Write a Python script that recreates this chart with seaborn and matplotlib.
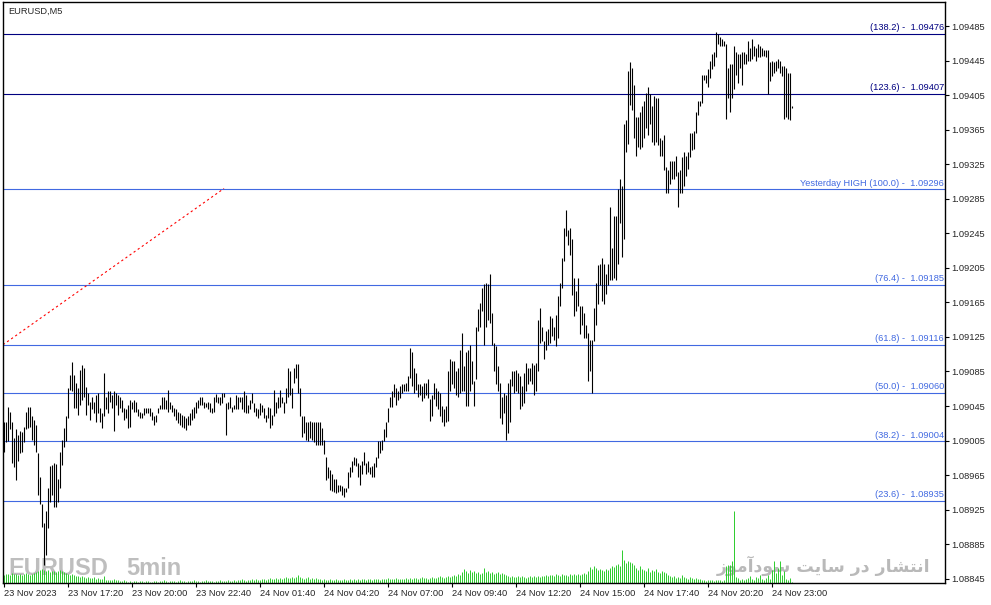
import numpy as np
import matplotlib
matplotlib.use("Agg")
import matplotlib.pyplot as plt
from matplotlib.ticker import FormatStrFormatter
import seaborn as sns

# EURUSD M5 bars, 23 Nov 2023 14:40 .. 24 Nov 2023 23:30
HIGH = [
    1.09026, 1.09026, 1.09044, 1.09038, 1.09027, 1.09008, 1.09018, 1.09012, 1.09016, 1.09015,
    1.09021, 1.09038, 1.09044, 1.09044, 1.09033, 1.09029, 1.09023, 1.08991, 1.08963, 1.08931,
    1.08910, 1.08923, 1.08950, 1.08975, 1.08977, 1.08979, 1.08978, 1.08960, 1.08992, 1.09006,
    1.09019, 1.09034, 1.09066, 1.09081, 1.09096, 1.09081, 1.09072, 1.09066, 1.09087, 1.09092,
    1.09089, 1.09067, 1.09060, 1.09050, 1.09056, 1.09050, 1.09058, 1.09060, 1.09043, 1.09037,
    1.09083, 1.09056, 1.09062, 1.09062, 1.09058, 1.09062, 1.09060, 1.09058, 1.09056, 1.09052,
    1.09043, 1.09041, 1.09046, 1.09052, 1.09050, 1.09052, 1.09050, 1.09041, 1.09038, 1.09037,
    1.09043, 1.09043, 1.09043, 1.09043, 1.09038, 1.09033, 1.09035, 1.09043, 1.09046, 1.09055,
    1.09055, 1.09052, 1.09064, 1.09050, 1.09046, 1.09043, 1.09041, 1.09038, 1.09037, 1.09035,
    1.09033, 1.09031, 1.09033, 1.09037, 1.09041, 1.09044, 1.09050, 1.09052, 1.09056, 1.09056,
    1.09050, 1.09049, 1.09050, 1.09049, 1.09043, 1.09055, 1.09059, 1.09056, 1.09055, 1.09060,
    1.09060, 1.09049, 1.09050, 1.09055, 1.09044, 1.09046, 1.09058, 1.09055, 1.09056, 1.09056,
    1.09062, 1.09058, 1.09046, 1.09052, 1.09060, 1.09049, 1.09043, 1.09041, 1.09049, 1.09046,
    1.09043, 1.09035, 1.09044, 1.09043, 1.09035, 1.09064, 1.09050, 1.09055, 1.09063, 1.09056,
    1.09050, 1.09066, 1.09089, 1.09085, 1.09066, 1.09089, 1.09094, 1.09094, 1.09066, 1.09033,
    1.09033, 1.09027, 1.09027, 1.09028, 1.09027, 1.09027, 1.09026, 1.09026, 1.09026, 1.09020,
    1.09006, 1.08986, 1.08974, 1.08971, 1.08966, 1.08960, 1.08960, 1.08954, 1.08954, 1.08952,
    1.08950, 1.08950, 1.08968, 1.08974, 1.08981, 1.08986, 1.08985, 1.08979, 1.08977, 1.08981,
    1.08992, 1.08979, 1.08981, 1.08974, 1.08975, 1.08979, 1.08986, 1.09004, 1.09004, 1.09006,
    1.09018, 1.09027, 1.09043, 1.09056, 1.09062, 1.09070, 1.09066, 1.09062, 1.09068, 1.09070,
    1.09070, 1.09072, 1.09080, 1.09112, 1.09108, 1.09089, 1.09083, 1.09070, 1.09070, 1.09068,
    1.09072, 1.09072, 1.09076, 1.09053, 1.09058, 1.09072, 1.09066, 1.09062, 1.09060, 1.09045,
    1.09041, 1.09045, 1.09085, 1.09099, 1.09097, 1.09097, 1.09085, 1.09089, 1.09110, 1.09130,
    1.09091, 1.09108, 1.09110, 1.09116, 1.09097, 1.09074, 1.09136, 1.09157, 1.09164, 1.09182,
    1.09186, 1.09188, 1.09186, 1.09198, 1.09153, 1.09118, 1.09114, 1.09091, 1.09072, 1.09056,
    1.09060, 1.09058, 1.09072, 1.09076, 1.09085, 1.09085, 1.09087, 1.09083, 1.09080, 1.09068,
    1.09083, 1.09095, 1.09089, 1.09089, 1.09095, 1.09093, 1.09095, 1.09145, 1.09159, 1.09136,
    1.09120, 1.09132, 1.09134, 1.09149, 1.09147, 1.09137, 1.09151, 1.09172, 1.09188, 1.09217,
    1.09251, 1.09272, 1.09249, 1.09251, 1.09238, 1.09193, 1.09178, 1.09193, 1.09161, 1.09161,
    1.09153, 1.09139, 1.09130, 1.09122, 1.09122, 1.09159, 1.09188, 1.09208, 1.09210, 1.09216,
    1.09210, 1.09198, 1.09210, 1.09275, 1.09228, 1.09265, 1.09265, 1.09296, 1.09308, 1.09300,
    1.09372, 1.09376, 1.09433, 1.09443, 1.09437, 1.09417, 1.09380, 1.09380, 1.09386, 1.09392,
    1.09398, 1.09408, 1.09414, 1.09406, 1.09392, 1.09404, 1.09402, 1.09402, 1.09355, 1.09353,
    1.09359, 1.09322, 1.09318, 1.09329, 1.09329, 1.09329, 1.09335, 1.09316, 1.09318, 1.09333,
    1.09339, 1.09335, 1.09339, 1.09361, 1.09361, 1.09363, 1.09386, 1.09398, 1.09398, 1.09429,
    1.09429, 1.09429, 1.09435, 1.09445, 1.09453, 1.09455, 1.09478, 1.09476, 1.09472, 1.09470,
    1.09468, 1.09464, 1.09437, 1.09441, 1.09441, 1.09462, 1.09455, 1.09453, 1.09453, 1.09455,
    1.09455, 1.09453, 1.09468, 1.09460, 1.09470, 1.09462, 1.09460, 1.09464, 1.09462, 1.09460,
    1.09457, 1.09457, 1.09457, 1.09443, 1.09445, 1.09443, 1.09445, 1.09447, 1.09445, 1.09439,
    1.09439, 1.09437, 1.09431, 1.09431, 1.09392,
]
LOW = [
    1.08992, 1.09003, 1.09004, 1.09018, 1.08979, 1.08974, 1.08959, 1.08981, 1.08991, 1.08992,
    1.09003, 1.09018, 1.09020, 1.09021, 1.09006, 1.09000, 1.08992, 1.08942, 1.08931, 1.08905,
    1.08861, 1.08873, 1.08904, 1.08934, 1.08942, 1.08928, 1.08928, 1.08934, 1.08950, 1.08977,
    1.08998, 1.09004, 1.09031, 1.09064, 1.09062, 1.09043, 1.09043, 1.09035, 1.09046, 1.09052,
    1.09055, 1.09035, 1.09046, 1.09029, 1.09041, 1.09037, 1.09027, 1.09037, 1.09027, 1.09020,
    1.09033, 1.09041, 1.09037, 1.09050, 1.09043, 1.09016, 1.09046, 1.09035, 1.09043, 1.09038,
    1.09029, 1.09031, 1.09020, 1.09021, 1.09041, 1.09038, 1.09038, 1.09033, 1.09031, 1.09031,
    1.09035, 1.09037, 1.09037, 1.09033, 1.09029, 1.09023, 1.09027, 1.09037, 1.09041, 1.09041,
    1.09041, 1.09041, 1.09038, 1.09041, 1.09038, 1.09033, 1.09029, 1.09025, 1.09023, 1.09021,
    1.09020, 1.09017, 1.09023, 1.09023, 1.09029, 1.09031, 1.09037, 1.09043, 1.09046, 1.09046,
    1.09043, 1.09044, 1.09041, 1.09038, 1.09037, 1.09038, 1.09050, 1.09049, 1.09046, 1.09049,
    1.09055, 1.09012, 1.09041, 1.09043, 1.09038, 1.09041, 1.09041, 1.09041, 1.09050, 1.09041,
    1.09038, 1.09037, 1.09037, 1.09041, 1.09049, 1.09038, 1.09033, 1.09031, 1.09035, 1.09038,
    1.09031, 1.09027, 1.09031, 1.09020, 1.09023, 1.09033, 1.09037, 1.09043, 1.09044, 1.09049,
    1.09037, 1.09049, 1.09056, 1.09058, 1.09043, 1.09072, 1.09078, 1.09060, 1.09033, 1.09009,
    1.09014, 1.09006, 1.09005, 1.09008, 1.09006, 1.09003, 1.09000, 1.09000, 1.09000, 1.09000,
    1.08989, 1.08959, 1.08962, 1.08948, 1.08946, 1.08945, 1.08944, 1.08945, 1.08946, 1.08942,
    1.08940, 1.08945, 1.08950, 1.08963, 1.08968, 1.08977, 1.08975, 1.08963, 1.08954, 1.08966,
    1.08977, 1.08966, 1.08968, 1.08966, 1.08963, 1.08963, 1.08974, 1.08985, 1.08991, 1.08994,
    1.09004, 1.09009, 1.09027, 1.09044, 1.09044, 1.09055, 1.09046, 1.09052, 1.09054, 1.09060,
    1.09062, 1.09062, 1.09062, 1.09078, 1.09068, 1.09060, 1.09064, 1.09056, 1.09058, 1.09051,
    1.09054, 1.09058, 1.09054, 1.09028, 1.09033, 1.09053, 1.09045, 1.09041, 1.09033, 1.09026,
    1.09022, 1.09026, 1.09028, 1.09062, 1.09070, 1.09066, 1.09058, 1.09056, 1.09060, 1.09062,
    1.09062, 1.09045, 1.09045, 1.09062, 1.09070, 1.09045, 1.09076, 1.09132, 1.09137, 1.09155,
    1.09116, 1.09137, 1.09145, 1.09141, 1.09116, 1.09085, 1.09070, 1.09062, 1.09031, 1.09024,
    1.09037, 1.09006, 1.09014, 1.09026, 1.09068, 1.09060, 1.09062, 1.09060, 1.09041, 1.09045,
    1.09049, 1.09062, 1.09070, 1.09074, 1.09070, 1.09058, 1.09062, 1.09085, 1.09118, 1.09120,
    1.09099, 1.09110, 1.09116, 1.09118, 1.09126, 1.09122, 1.09114, 1.09124, 1.09161, 1.09182,
    1.09213, 1.09242, 1.09232, 1.09220, 1.09174, 1.09149, 1.09155, 1.09161, 1.09128, 1.09139,
    1.09124, 1.09124, 1.09074, 1.09085, 1.09060, 1.09120, 1.09139, 1.09163, 1.09185, 1.09167,
    1.09163, 1.09175, 1.09185, 1.09191, 1.09191, 1.09193, 1.09191, 1.09210, 1.09257, 1.09218,
    1.09238, 1.09339, 1.09349, 1.09394, 1.09388, 1.09355, 1.09335, 1.09345, 1.09343, 1.09345,
    1.09355, 1.09367, 1.09359, 1.09372, 1.09351, 1.09347, 1.09351, 1.09347, 1.09335, 1.09335,
    1.09318, 1.09292, 1.09292, 1.09302, 1.09308, 1.09308, 1.09312, 1.09275, 1.09292, 1.09292,
    1.09300, 1.09312, 1.09320, 1.09333, 1.09341, 1.09343, 1.09361, 1.09382, 1.09392, 1.09396,
    1.09423, 1.09419, 1.09414, 1.09425, 1.09435, 1.09439, 1.09449, 1.09464, 1.09462, 1.09462,
    1.09462, 1.09378, 1.09402, 1.09386, 1.09402, 1.09412, 1.09429, 1.09419, 1.09437, 1.09417,
    1.09441, 1.09441, 1.09445, 1.09445, 1.09447, 1.09451, 1.09445, 1.09449, 1.09449, 1.09451,
    1.09451, 1.09449, 1.09406, 1.09421, 1.09427, 1.09431, 1.09433, 1.09437, 1.09431, 1.09427,
    1.09378, 1.09380, 1.09378, 1.09376, 1.09390,
]
# tick volume
VOLUME = [
    160, 180, 180, 160, 200, 180, 180, 160, 180, 160, 180, 200, 180, 160, 180, 200, 220,
    240, 260, 280, 260, 240, 260,
    220, 240, 240, 220, 240, 260, 240, 220,
    200, 180, 160, 180, 160, 140, 140, 120, 140, 120, 100, 120, 100, 100, 120, 80, 100, 80, 80,
    140,
    60, 60, 60, 60, 80, 60, 60, 40, 40, 60,
    40, 20, 40, 20, 40, 40, 20, 40, 40, 20, 40, 40, 20, 20, 40, 40, 20, 40, 40, 60,
    40, 20, 40, 40, 40, 20, 40, 60, 40, 40, 20, 40, 40, 40, 60, 40, 40, 20, 40, 40,
    60, 40, 40, 40, 20, 40, 40, 60, 40, 40, 40, 60, 40, 40,
    60, 40, 60, 60, 80, 60, 40, 60, 60, 80, 60, 80, 60, 60, 80, 80, 60, 80, 100, 80,
    80, 100, 80, 100, 80, 100, 120, 100, 100, 120, 100, 120, 160, 120,
    100, 80, 100, 120, 80, 100, 80, 100, 80, 80,
    60, 80, 60, 60, 80, 60, 60, 80, 60, 60, 60, 80, 60, 60, 80, 60, 80, 60, 80, 60, 80, 80, 60,
    80, 80, 60, 80, 80, 80, 60, 80, 80, 80, 100, 80, 80, 80, 100, 80, 80, 80, 80, 100, 80, 100,
    80, 100, 100, 80, 100, 120, 100, 100, 80, 100, 120, 100, 100, 120, 140, 120, 100, 120, 140, 120,
    140, 160, 140, 180, 160,
    220, 280, 240, 200, 260, 220, 240,
    200, 220, 180, 200, 300, 220, 240, 200, 220, 180, 200, 220, 180, 200, 180, 160,
    140, 120, 140, 120, 120, 140, 120, 140, 120, 100, 120, 140, 120, 140, 120, 140, 120, 140, 140, 160,
    140, 160,
    160, 140, 180, 160, 140, 180, 160, 160, 140, 180, 160, 180, 160, 180, 160, 180, 200, 180,
    240, 320, 280, 340, 300, 260, 280,
    260, 240, 280, 260, 300,
    340, 320, 360, 380, 340,
    660,
    460, 400, 440, 420, 400, 360,
    300, 260, 340, 280, 260,
    240, 300, 220, 260, 240, 280, 220, 200, 240, 220, 200,
    160, 140, 120, 140, 100, 120, 100, 160, 120, 100, 80, 120, 100, 80, 100, 80, 80,
    60, 60, 40, 60, 60, 60, 40, 60, 60, 60, 40, 60,
    340, 360, 360, 440,
    1440,
    120, 100, 60, 80, 60, 80, 100, 140, 80, 60, 120, 100, 160, 80, 60, 100, 160, 80,
    260, 440, 200, 300, 440, 160, 240,
    80, 60, 100, 20,
]

FIB_LEVELS = [138.2, 123.6, 100.0, 76.4, 61.8, 50.0, 38.2, 23.6]
FIB_PRICES = [1.09476, 1.09407, 1.09296, 1.09185, 1.09116, 1.09060, 1.09004, 1.08935]
FIB_PREFIX = ["", "", "Yesterday HIGH ", "", "", "", "", ""]

TIME_LABELS = ["23 Nov 2023", "23 Nov 17:20", "23 Nov 20:00", "23 Nov 22:40",
               "24 Nov 01:40", "24 Nov 04:20", "24 Nov 07:00", "24 Nov 09:40",
               "24 Nov 12:20", "24 Nov 15:00", "24 Nov 17:40", "24 Nov 20:20",
               "24 Nov 23:00"]

# red trend line (bar index, price)
TREND_BARS = [-0.5, 110]
TREND_PRICES = [1.09116, 1.09297]

# "انتشار در سایت سودآموز" written with presentation forms in visual order
# since matplotlib does no arabic shaping
WATERMARK_FA = ("\ufeaf\ufeee\ufee3\ufe81\ufea9\ufeee\ufeb3 \ufe96\ufbfe\ufe8e\ufeb3 "
                "\ufead\ufea9 \ufead\ufe8e\ufeb8\ufe98\ufee7\ufe8d")

sns.set_style("white")
plt.rcParams["font.family"] = ["Liberation Sans", "DejaVu Sans"]

fig = plt.figure(figsize=(9.91, 6.05), dpi=100)
ax = fig.add_axes([3 / 991, 22 / 605, 942 / 991, 581 / 605])
axv = ax.twinx()
ax.set_zorder(axv.get_zorder() + 1)
ax.patch.set_visible(False)

bars = np.arange(len(HIGH))

# volumes at the bottom of the chart
axv.vlines(bars, 0, VOLUME, colors="#32cd32", linewidth=0.72, zorder=2)
axv.set_ylim(0, 11620)
axv.axis("off")

# watermarks sit under the volume bars
axv.text(0.0053, 0.0138, "EURUSD", transform=axv.transAxes, fontsize=17,
         family="Liberation Sans", weight="bold", color="#bebebe", zorder=0.5)
axv.text(0.1306, 0.0138, "5min", transform=axv.transAxes, fontsize=17,
         family="Liberation Sans", weight="bold", color="#bebebe", zorder=0.5)
axv.text(0.984, 0.019, WATERMARK_FA, transform=axv.transAxes, fontsize=12.5,
         family="DejaVu Sans", weight="bold", color="#b9b9b9", ha="right", zorder=0.5)

# high-low bars
ax.vlines(bars, LOW, HIGH, colors="black", linewidth=0.8, zorder=3)

# fibonacci levels
for lvl, price, prefix in zip(FIB_LEVELS, FIB_PRICES, FIB_PREFIX):
    col = "#000080" if lvl > 100 else "#4169e1"
    ax.axhline(price, color=col, linewidth=0.8, zorder=2)
    ax.annotate(f"{prefix}({lvl:.1f}) -  {price:.5f}", xy=(0.9989, price),
                xycoords=ax.get_yaxis_transform(), xytext=(0, 1.2),
                textcoords="offset points", ha="right", va="bottom",
                fontsize=6.7, color=col)

ax.plot(TREND_BARS, TREND_PRICES, color="red", linestyle=(0, (2, 2.5)), linewidth=0.8)

ax.text(0.0053, 0.991, "EURUSD,M5", transform=ax.transAxes, va="top", fontsize=6.7)

ax.set_xlim(-0.5, 470.5)
ax.set_ylim(1.08840, 1.09513)
ax.yaxis.tick_right()
ax.set_yticks(np.arange(1.08845, 1.09486, 0.0004))
ax.yaxis.set_major_formatter(FormatStrFormatter("%.5f"))
ax.set_xticks(bars[::32])
ax.set_xticklabels(TIME_LABELS, ha="left")
ax.tick_params(axis="both", direction="out", length=3, width=0.8, labelsize=6.7,
               color="black", pad=1.5, right=True, bottom=True)
ax.set_xlabel("")
ax.set_ylabel("")
for sp in ax.spines.values():
    sp.set_visible(True)
    sp.set_color("black")
    sp.set_linewidth(1)

fig.savefig("out.png", dpi=100)
